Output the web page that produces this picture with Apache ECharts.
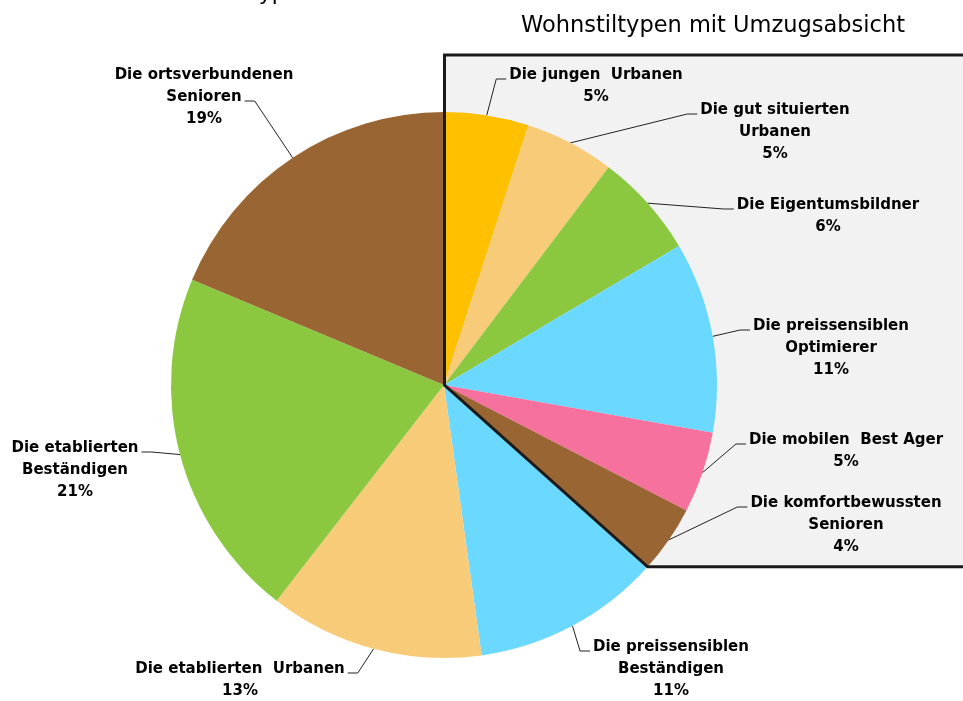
<!DOCTYPE html>
<html>
<head>
<meta charset="utf-8">
<script src="https://cdn.jsdelivr.net/npm/echarts@6/dist/echarts.min.js"></script>
<style>
  html, body { margin: 0; padding: 0; background: #fff; }
  #chart { width: 963px; height: 701px; }
</style>
</head>
<body>
<div id="chart"></div>
<script>
// Wohnstiltypen mit Umzugsabsicht (in %)
const names = [
  'Die jungen  Urbanen',
  'Die gut situierten\nUrbanen',
  'Die Eigentumsbildner',
  'Die preissensiblen\nOptimierer',
  'Die mobilen  Best Ager',
  'Die komfortbewussten\nSenioren',
  'Die preissensiblen\nBeständigen',
  'Die etablierten  Urbanen',
  'Die etablierten\nBeständigen',
  'Die ortsverbundenen\nSenioren'
]
const values = [5.0, 5.3, 6.2, 11.3, 4.8, 4.0, 11.2, 12.7, 20.8, 18.7]
const colors = ['#FFC000', '#F7CB78', '#8CC83F', '#6BD9FF', '#F7719F',
                '#996633', '#6BD9FF', '#F7CB78', '#8CC83F', '#996633']
// first slices that are framed by the grey box
const boxedCount = 6

// where each label sits: centre x, centre y of first line, side of the pie, line the leader ends at
const labelPos = [
  {x: 596, y: 75, side: 'r', line: 0},
  {x: 775, y: 110, side: 'r', line: 0},
  {x: 828, y: 205, side: 'r', line: 0},
  {x: 831, y: 326, side: 'r', line: 0},
  {x: 846, y: 440, side: 'r', line: 0},
  {x: 846, y: 503, side: 'r', line: 0},
  {x: 671, y: 647, side: 'r', line: 0},
  {x: 240, y: 669, side: 'l', line: 0},
  {x: 75, y: 448, side: 'l', line: 0},
  {x: 204, y: 75, side: 'l', line: 1}
]

const CX = 444, CY = 385, R = 273
const FONT = '"DejaVu Sans", sans-serif'
const FONT_SIZE = 15
const LINE_H = 22

const measureCtx = document.createElement('canvas').getContext('2d')
measureCtx.font = 'bold ' + FONT_SIZE + 'px ' + FONT
function textWidth(s) {
  return measureCtx.measureText(s).width
}

// corner of the box where it meets the pie edge, from the boxed share
const total = values.reduce((a, b) => a + b, 0)
const boxedShare = values.slice(0, boxedCount).reduce((a, b) => a + b, 0) / total
const ang = boxedShare * Math.PI * 2
const edgeX = CX + R * Math.sin(ang)
const edgeY = CY - R * Math.cos(ang)
const BOX_TOP = 55
const BOX_RIGHT = 970
const boxPoints = [[BOX_RIGHT, BOX_TOP], [CX + 0.5, BOX_TOP], [CX + 0.5, CY], [edgeX, edgeY], [BOX_RIGHT, edgeY]]

const chart = echarts.init(document.getElementById('chart'))

chart.setOption({
  backgroundColor: '#fff',
  animation: false,
  graphic: [
    {
      type: 'polygon', z: 0,
      shape: {points: boxPoints},
      style: {fill: '#F2F2F2', stroke: null}
    },
    {
      type: 'polyline', z: 50,
      shape: {points: boxPoints},
      style: {stroke: '#1A1A1A', lineWidth: 3, fill: null}
    },
    {
      // title of the neighbouring chart, cut off by the top edge
      type: 'text', z: 50, x: 156, y: 5,
      style: {text: 'Wohnstiltypen', font: '22px ' + FONT, fill: '#000',
              align: 'left', verticalAlign: 'bottom'}
    },
    {
      type: 'text', z: 50, x: 713, y: 15,
      style: {text: 'Wohnstiltypen mit Umzugsabsicht', font: '22.5px ' + FONT, fill: '#000',
              align: 'center', verticalAlign: 'top'}
    }
  ],
  series: [{
    type: 'pie',
    z: 2,
    center: [CX, CY],
    radius: R,
    startAngle: 90,
    clockwise: true,
    percentPrecision: 0,
    avoidLabelOverlap: false,
    itemStyle: {borderWidth: 0},
    label: {
      show: true,
      formatter: '{b}\n{d}%',
      color: '#000',
      fontFamily: FONT,
      fontWeight: 'bold',
      fontSize: FONT_SIZE,
      lineHeight: LINE_H,
      align: 'center'
    },
    labelLine: {
      show: true,
      length: 10,
      length2: 10,
      lineStyle: {color: '#222', width: 1}
    },
    labelLayout: function (p) {
      const L = labelPos[p.dataIndex]
      const lines = p.text.split('\n')
      const w = textWidth(lines[L.line])
      const ay = L.y + L.line * LINE_H + 4
      const ax = L.side === 'r' ? L.x - w / 2 - 3 : L.x + w / 2 + 3
      const bx = L.side === 'r' ? ax - 10 : ax + 10
      const start = p.labelLinePoints ? p.labelLinePoints[0] : [ax, ay]
      return {
        x: L.x,
        y: L.y - LINE_H / 2,
        align: 'center',
        verticalAlign: 'top',
        labelLinePoints: [start, [bx, ay], [ax, ay]]
      }
    },
    data: values.map((v, i) => ({
      name: names[i],
      value: v,
      itemStyle: {color: colors[i]}
    }))
  }]
})
</script>
</body>
</html>
